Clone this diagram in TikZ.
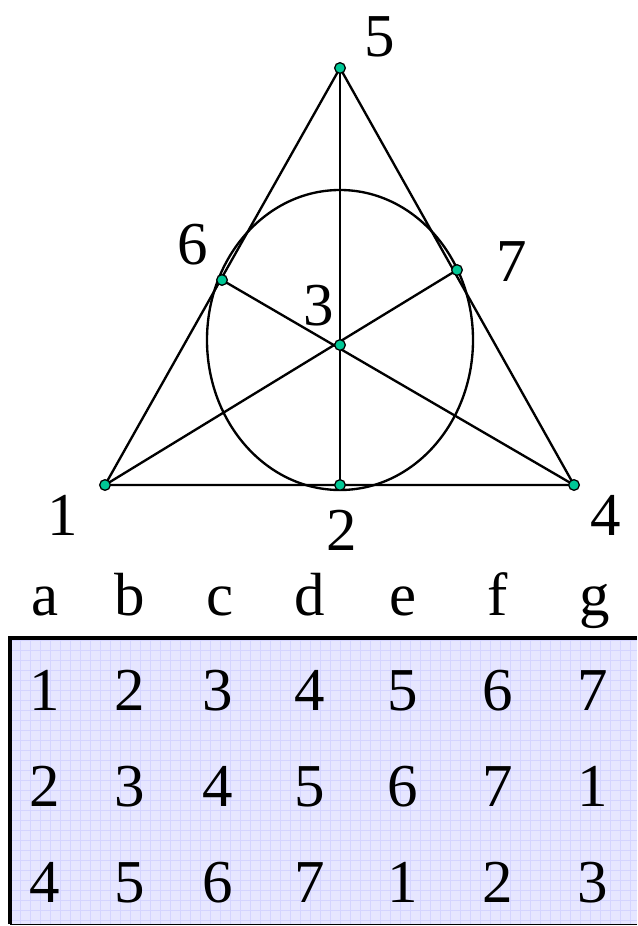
\documentclass[tikz,border=0pt]{standalone}
\usepackage{fontspec}
\setmainfont{Liberation Serif}
\definecolor{dotgreen}{RGB}{0,200,150}
\definecolor{tablebg}{RGB}{230,230,255}
\definecolor{tablegrid}{RGB}{212,212,255}
\tikzset{
  pt/.style={fill=dotgreen, draw=black, line width=1.1pt},
  lbl/.style={inner sep=0pt, font=\fontsize{52}{60}\selectfont}
}
\begin{document}
\begin{tikzpicture}[x=0.03cm, y=-0.03cm, line width=2pt]
\useasboundingbox (0,0) rectangle (637,926);

% Points of the plane
\coordinate (P1) at (105,485);
\coordinate (P2) at (340,485);
\coordinate (P3) at (340,345);
\coordinate (P4) at (574,485);
\coordinate (P5) at (340,68);
\coordinate (P6) at (222,280);
\coordinate (P7) at (457,270);

% Triangle
\draw (P1) -- (P4) -- (P5) -- cycle;

% Lines through the centre
\draw (P5) -- (P2);
\draw (P1) -- (P7);
\draw (P4) -- (P6);

% Circle
\draw (340,340) ellipse [x radius=3.99cm, y radius=4.5cm];

% Dots
\foreach \p in {P1,P2,P3,P4,P5,P6,P7}
  \filldraw[pt] (\p) circle [radius=0.16cm];

% Point labels
\node[lbl] (n1) at (63,515) {1};
\node[lbl] (n2) at (342,530) {2};
\node[lbl] (n3) at (319,306) {3};
\node[lbl] (n4) at (606,515) {4};
\node[lbl] (n5) at (380,37) {5};
\node[lbl] (n6) at (193,245) {6};
\node[lbl] (n7) at (512,262) {7};

% Column letters
\node[lbl, anchor=base] (la) at (45,615) {a};
\node[lbl, anchor=base] (lb) at (130,615) {b};
\node[lbl, anchor=base] (lc) at (220,615) {c};
\node[lbl, anchor=base] (ld) at (310,615) {d};
\node[lbl, anchor=base] (le) at (403,615) {e};
\node[lbl, anchor=base] (lf) at (498,615) {f};
\node[lbl, anchor=base] (lg) at (595,615) {g};

% Table
\fill[tablebg] (10,638) rectangle (637,924);
\draw[tablegrid, line width=0.4pt, step=0.3cm] (10,638) grid (637,924);
\draw[line width=0.6pt] (10,924) -- (637,924);
\draw[line width=2.6pt] (10,924) -- (10,638) -- (637,638);

% Table rows
\foreach \x/\a/\b/\c [count=\i] in {45/1/2/4, 130/2/3/5, 218/3/4/6, 310/4/5/7,
                                   403/5/6/1, 498/6/7/2, 593/7/1/3} {
  \node[lbl, anchor=base] (r1c\i) at (\x,710) {\a};
  \node[lbl, anchor=base] (r2c\i) at (\x,806) {\b};
  \node[lbl, anchor=base] (r3c\i) at (\x,902) {\c};
}
\end{tikzpicture}
\end{document}
